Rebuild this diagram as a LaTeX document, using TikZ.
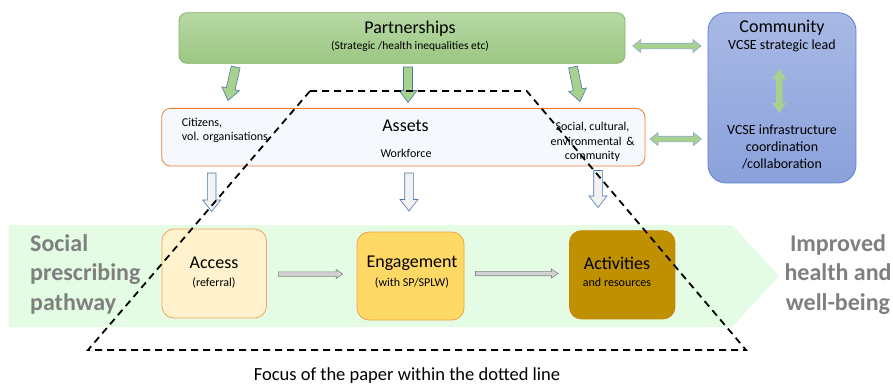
\documentclass[tikz,border=0pt]{standalone}
\usepackage{fontspec}
\setmainfont{Carlito}
\usetikzlibrary{calc}
\definecolor{pgtop}{HTML}{B7D8A4}
\definecolor{pgbot}{HTML}{9CC783}
\definecolor{pgline}{HTML}{84B56A}
\definecolor{cmtop}{HTML}{A9B9E5}
\definecolor{cmbot}{HTML}{8AA1DB}
\definecolor{cmline}{HTML}{5B80D2}
\definecolor{asfill}{HTML}{F5F9FE}
\definecolor{asline}{HTML}{ED7D31}
\definecolor{band}{HTML}{E3FCE3}
\definecolor{acfill}{HTML}{FFF2CC}
\definecolor{acline}{HTML}{F2A45E}
\definecolor{enfill}{HTML}{FFD966}
\definecolor{enline}{HTML}{F2A050}
\definecolor{atfill}{HTML}{BF9000}
\definecolor{atline}{HTML}{C9820C}
\definecolor{garrow}{HTML}{A9D18E}
\definecolor{arrline}{HTML}{4A78B0}
\definecolor{dblline}{HTML}{8FAADC}
\definecolor{wfill}{HTML}{F2F2F2}
\definecolor{hfill}{HTML}{D3D3D3}
\definecolor{hline}{HTML}{858585}
\definecolor{greytext}{HTML}{7F7F7F}
\newcommand\arrowgeom[2]{%
  \pgfpointdiff{\pgfpointanchor{#1}{center}}{\pgfpointanchor{#2}{center}}%
  \pgfgetlastxy{\bdx}{\bdy}%
  \pgfmathsetmacro\bang{atan2(\bdy,\bdx)}%
  \pgfmathsetmacro\blen{veclen(\bdx,\bdy)}}
% #1 style, #2 from, #3 to, #4 half shaft, #5 half head, #6 head length
\newcommand\blockarrow[6]{%
  \arrowgeom{#2}{#3}%
  \path[#1, shift={(#2)}, rotate=\bang] (0,-#4) -- (\blen-#6,-#4) -- (\blen-#6,-#5) -- (\blen,0)
    -- (\blen-#6,#5) -- (\blen-#6,#4) -- (0,#4) -- cycle;}
\newcommand\dblarrow[6]{%
  \arrowgeom{#2}{#3}%
  \path[#1, shift={(#2)}, rotate=\bang] (0,0) -- (#6,-#5) -- (#6,-#4) -- (\blen-#6,-#4)
    -- (\blen-#6,-#5) -- (\blen,0) -- (\blen-#6,#5) -- (\blen-#6,#4) -- (#6,#4) -- (#6,#5) -- cycle;}
\begin{document}
\begin{tikzpicture}[x=1pt,y=-1pt,
  boxbase/.style={inner sep=0pt, line width=0.8pt},
  txt/.style={inner sep=0pt, align=center},
  f9/.style={font=\fontsize{11.5}{13}\selectfont},
  f12/.style={font=\fontsize{12}{14}\selectfont},
  f14/.style={font=\fontsize{14}{17}\selectfont},
  f18/.style={font=\fontsize{18}{21}\selectfont},
  fbig/.style={font=\fontsize{24}{29}\selectfont\bfseries, text=greytext, inner sep=0pt},
  greenarr/.style={fill=garrow, draw=arrline, line width=0.6pt},
  whitearr/.style={fill=wfill, draw=arrline, line width=0.6pt},
  dblarr/.style={fill=garrow, draw=dblline, line width=0.6pt},
  grayarr/.style={fill=hfill, draw=hline, line width=0.6pt},
  focus/.style={draw=black, line width=1.8pt, dash pattern=on 7pt off 5pt}
]
\useasboundingbox (0,0) rectangle (893,384);

% pathway band
\fill[band] (8.5,225) -- (732,225) -- (779,276) -- (732,327) -- (8.5,327) -- cycle;

% boxes
\node[boxbase, draw=pgline, top color=pgtop, bottom color=pgbot, rounded corners=8pt,
  minimum width=446pt, minimum height=50.6pt] (partners) at (402,38) {};
\node[boxbase, draw=cmline, top color=cmtop, bottom color=cmbot, rounded corners=18pt,
  minimum width=148pt, minimum height=170.3pt] (community) at (782,97.8) {};
\node[boxbase, draw=asline, fill=asfill, rounded corners=9pt,
  minimum width=483.3pt, minimum height=57.7pt] (assets) at (403.3,137.2) {};
\node[boxbase, draw=acline, fill=acfill, rounded corners=12pt,
  minimum width=104.5pt, minimum height=89pt] (access) at (214.2,273.5) {};
\node[boxbase, draw=enline, fill=enfill, rounded corners=12pt,
  minimum width=107pt, minimum height=88pt] (engage) at (410.5,276) {};
\node[boxbase, draw=atline, fill=atfill, rounded corners=12pt,
  minimum width=105.5pt, minimum height=88.3pt] (activ) at (622.2,274.8) {};

% texts
\node[txt, f18] at (410,28.5) {Partnerships};
\node[txt, f9] at (410,46) {(Strategic /health inequalities etc)};
\node[txt, f18] at (782,27.5) {Community};
\node[txt, f14] at (782,46) {VCSE strategic lead};
\node[txt, f14] at (782,129.5) {VCSE infrastructure};
\node[txt, f14] at (782,147) {coordination};
\node[txt, f14] at (782,164) {/collaboration};

\node[txt, f18] at (405.5,126) {Assets};
\node[txt, f12] at (406,153) {Workforce};
\node[txt, f12, anchor=west] at (181.7,122.7) {Citizens,};
\node[txt, f12, anchor=west] at (181.7,137.3) {vol. organisations};
\node[txt, f12] at (592.5,127.3) {Social, cultural,};
\node[txt, f12] at (592.5,141.7) {environmental \,\&};
\node[txt, f12] at (592.5,156) {community};

\node[txt, f18] at (214,263) {Access};
\node[txt, f12] at (214,283) {(referral)};
\node[txt, f18] at (412,263.5) {Engagement};
\node[txt, f12] at (412,282.5) {(with SP/SPLW)};
\node[txt, f18] at (617,263) {Activities};
\node[txt, f12] at (617,282) {and resources};

\node[fbig, anchor=base west] at (30,251) {Social};
\node[fbig, anchor=base west] at (30,280.5) {prescribing};
\node[fbig, anchor=base west] at (30,310) {pathway};
\node[fbig, anchor=base] at (838,251) {Improved};
\node[fbig, anchor=base] at (838,280.5) {health and};
\node[fbig, anchor=base] at (838,310) {well-being};

\node[txt, font=\fontsize{18.5}{22}\selectfont] (caption) at (407,376) {Focus of the paper within the dotted line};

% arrow end points
\coordinate (g1s) at (235.7,67);  \coordinate (g1e) at (228,100.5);
\coordinate (g2s) at (408,67);    \coordinate (g2e) at (408,102.5);
\coordinate (g3s) at (573,67);    \coordinate (g3e) at (580,101.5);
\coordinate (w1s) at (211.7,173); \coordinate (w1e) at (211.7,211.5);
\coordinate (w2s) at (409,173);   \coordinate (w2e) at (409,211);
\coordinate (w3s) at (598,170.5); \coordinate (w3e) at (598,207.5);
\coordinate (d1s) at (632.7,46);  \coordinate (d1e) at (701,46);
\coordinate (d2s) at (650,139);   \coordinate (d2e) at (701.5,139);
\coordinate (d3s) at (779.3,69);  \coordinate (d3e) at (779.3,113);
\coordinate (h1s) at (278.3,274); \coordinate (h1e) at (342.7,274);
\coordinate (h2s) at (475.5,273.5); \coordinate (h2e) at (558,273.5);

\blockarrow{greenarr}{g1s}{g1e}{4.5}{9}{12}
\blockarrow{greenarr}{g2s}{g2e}{4.5}{9}{12}
\blockarrow{greenarr}{g3s}{g3e}{4.5}{9}{12}
\blockarrow{whitearr}{w1s}{w1e}{4.3}{9}{11.5}
\blockarrow{whitearr}{w2s}{w2e}{4.3}{9}{11.5}
\blockarrow{whitearr}{w3s}{w3e}{4.3}{9}{11.5}
\dblarrow{dblarr}{d1s}{d1e}{2.8}{6.5}{8}
\dblarrow{dblarr}{d2s}{d2e}{2.8}{6.5}{8}
\dblarrow{fill=garrow}{d3s}{d3e}{3.3}{6.7}{10}
\blockarrow{grayarr}{h1s}{h1e}{2.2}{4.5}{6.5}
\blockarrow{grayarr}{h2s}{h2e}{2.2}{4.5}{6.5}

% focus outline
\coordinate (ft1) at (310,91);
\coordinate (ft2) at (526.7,91);
\coordinate (fb2) at (746,350);
\coordinate (fb1) at (88,350);
\draw[focus] (ft1) -- (ft2) -- (fb2) -- (fb1) -- cycle;
\end{tikzpicture}
\end{document}
